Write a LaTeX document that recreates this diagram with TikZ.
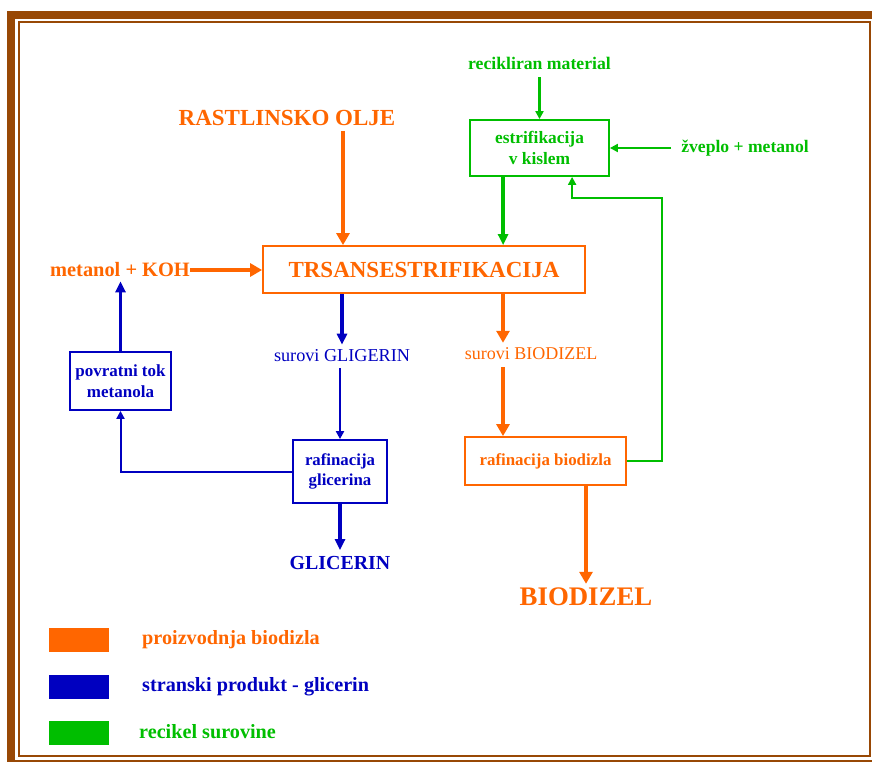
\documentclass[tikz,border=0pt]{standalone}
\usepackage{fontspec}
\setmainfont{Liberation Serif}
\usetikzlibrary{arrows.meta, positioning, calc}
\definecolor{bdorange}{HTML}{FF6600}
\definecolor{bdblue}{HTML}{0000C0}
\definecolor{bdgreen}{HTML}{00BE00}
\definecolor{bdbrown}{HTML}{984805}
\newcommand{\fsz}[1]{\fontsize{#1}{#1}\selectfont}

\begin{document}
\begin{tikzpicture}[x=1pt, y=-1pt,
  box/.style={draw, line width=1.8pt, inner sep=0pt, align=center},
  lbl/.style={inner sep=0pt, anchor=center},
  fl/.style={-{Triangle[length=12pt,width=13pt]}, line width=4.4pt},
  bfl/.style={-{Triangle[length=11pt,width=10pt]}, line width=3.8pt},
  tfl/.style={-{Triangle[length=8pt,width=8pt]}, line width=2pt},
  swatch/.style={minimum width=60pt, minimum height=24pt, inner sep=0pt}]
  \useasboundingbox (0,0) rectangle (872,762);
  % frame
  \draw[bdbrown, line width=8pt] (11,15) rectangle (878,764);
  \draw[bdbrown, line width=1.6pt] (18.8,21.8) rectangle (870,756);

  % orange main line
  \node[lbl, text=bdorange, font=\bfseries\fsz{23}] (olje) at (287,118) {RASTLINSKO OLJE};
  \node[box, draw=bdorange, text=bdorange, minimum width=322pt, minimum height=47pt,
    font=\bfseries\fsz{23}] (trans) at (424,269.5) {TRSANSESTRIFIKACIJA};
  \node[lbl, text=bdorange, font=\bfseries\fsz{20.4}] (koh) at (120,270) {metanol + KOH};
  \node[lbl, text=bdorange, font=\fsz{18}] (sbio) at (531,354) {surovi BIODIZEL};
  \node[box, draw=bdorange, text=bdorange, minimum width=161pt, minimum height=48pt,
    font=\bfseries\fsz{16.9}] (rafbio) at (545.5,461) {rafinacija biodizla};
  \node[lbl, text=bdorange, font=\bfseries\fsz{26.8}] (biodizel) at (586,597) {BIODIZEL};
  \coordinate (oljex) at (343,0);
  \coordinate (biox) at (503,0);
  \draw[fl, bdorange] (olje.south -| oljex) ++(0,5) -- (trans.north -| oljex);
  \draw[fl, bdorange] (koh.east) -- (koh.east -| trans.west);
  \draw[fl, bdorange] (trans.south -| biox) -- ([yshift=5pt]sbio.north -| biox);
  \draw[fl, bdorange] ([yshift=-7pt]sbio.south -| biox) -- (rafbio.north -| biox);
  \draw[fl, bdorange] (rafbio.south -| biodizel) -- ([yshift=4pt]biodizel.north);

  % blue side product
  \node[lbl, text=bdblue, font=\fsz{18.2}] (sglic) at (342,356) {surovi GLIGERIN};
  \node[box, draw=bdblue, text=bdblue, minimum width=94pt, minimum height=63pt,
    font=\bfseries\fsz{16.8}] (rafglic) at (340,471.5) {rafinacija\\[3pt]glicerina};
  \node[lbl, text=bdblue, font=\bfseries\fsz{19.9}] (glicerin) at (340,563) {GLICERIN};
  \node[box, draw=bdblue, text=bdblue, minimum width=101pt, minimum height=58pt,
    font=\bfseries\fsz{17}] (povrat) at (120.5,381) {povratni tok\\[4pt]metanola};
  \draw[bfl, bdblue] (trans.south -| sglic) -- ([yshift=5pt]sglic.north);
  \draw[tfl, bdblue] ([yshift=-6pt]sglic.south -| rafglic) -- (rafglic.north);
  \draw[bfl, bdblue] (rafglic.south) -- ([yshift=6pt]glicerin.north);
  \draw[tfl, bdblue] (rafglic.west) -| (povrat.south);
  \draw[bfl, bdblue] (povrat.north) -- ([yshift=-4pt]koh.south -| povrat);

  % green recycling
  \node[lbl, text=bdgreen, font=\bfseries\fsz{17.7}] (recik) at (539.5,63) {recikliran material};
  \node[box, draw=bdgreen, text=bdgreen, minimum width=139pt, minimum height=56pt,
    font=\bfseries\fsz{17.4}] (ester) at (539.5,148) {estrifikacija\\[4pt]v kislem};
  \node[lbl, text=bdgreen, font=\bfseries\fsz{17.6}] (zveplo) at (745,148) {žveplo + metanol};
  \coordinate (loop) at (662,198);
  \draw[tfl, bdgreen, line width=2.8pt] ([yshift=-8pt]recik.south) -- (ester.north);
  \draw[tfl, bdgreen, line width=2.8pt] ([xshift=-10pt]zveplo.west) -- (ester.east);
  \draw[bfl, bdgreen] ([xshift=34pt]ester.south west) -- ([xshift=34pt]ester.south west |- trans.north);
  \draw[tfl, bdgreen] (rafbio.east) -| (loop) -| ([xshift=103pt]ester.south west);

  % legend
  \node[swatch, fill=bdorange] (sw1) at (79,640) {};
  \node[swatch, fill=bdblue] (sw2) at (79,687) {};
  \node[swatch, fill=bdgreen] (sw3) at (79,732.5) {};
  \node[lbl, anchor=west, text=bdorange, font=\bfseries\fsz{20.2}] (leg1) at (142,640) {proizvodnja biodizla};
  \node[lbl, anchor=west, text=bdblue, font=\bfseries\fsz{20.2}] (leg2) at (142,687) {stranski produkt - glicerin};
  \node[lbl, anchor=west, text=bdgreen, font=\bfseries\fsz{20.2}] (leg3) at (139,732) {recikel surovine};
\end{tikzpicture}
\end{document}
